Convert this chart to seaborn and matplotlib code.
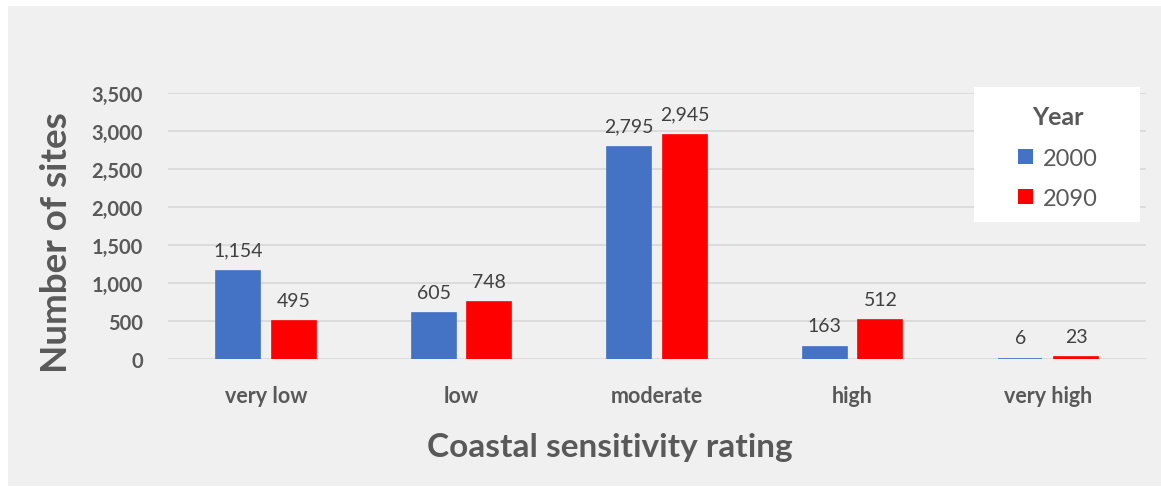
import matplotlib
matplotlib.use("Agg")
import matplotlib.pyplot as plt
from matplotlib.patches import Patch, Rectangle
import seaborn as sns
import pandas as pd

# Sites per coastal sensitivity rating, by year
ratings = ["very low", "low", "moderate", "high", "very high"]
years = ["2000", "2090"]
sites_2000 = [1154, 605, 2795, 163, 6]
sites_2090 = [495, 748, 2945, 512, 23]
y_ticks = [0, 500, 1000, 1500, 2000, 2500, 3000, 3500]

df = pd.DataFrame({
    "rating": ratings * 2,
    "year": [years[0]] * len(ratings) + [years[1]] * len(ratings),
    "sites": sites_2000 + sites_2090,
})

sns.set_theme(style="white")
plt.rcParams["font.family"] = ["Lato", "DejaVu Sans"]

W, H = 1161, 489
fig = plt.figure(figsize=(W / 100, H / 100), dpi=100)
fig.patch.set_facecolor("white")
# light grey chart area behind everything
fig.patches.append(Rectangle((8 / W, 2 / H), (W - 8) / W, (H - 9) / H,
                             transform=fig.transFigure, facecolor="#f0f0f0",
                             edgecolor="none", zorder=-10))

ax = fig.add_axes([168 / W, 1 - 360 / H, (1146 - 168) / W, (360 - 94) / H])
ax.set_facecolor("none")

colors = ["#4472C4", "#FF0000"]
sns.barplot(data=df, x="rating", y="sites", hue="year", hue_order=years,
            order=ratings, palette=colors, width=0.568, gap=0.208,
            linewidth=0, legend=False, saturation=1, ax=ax)
# thin outline in the bar colour keeps very small bars visible
for p in ax.patches:
    p.set_edgecolor(p.get_facecolor())
    p.set_linewidth(1.2)

ax.set_xlim(-0.5, 4.5)
ax.set_ylim(0, 3500)
ax.set_yticks(y_ticks)
ax.set_yticklabels([f"{t:,}" for t in y_ticks])
ax.yaxis.grid(True, color="#d9d9d9", linewidth=1.3)
ax.set_axisbelow(True)
for s in ax.spines.values():
    s.set_visible(False)
ax.tick_params(axis="both", length=0)
ax.tick_params(axis="y", pad=18)
ax.tick_params(axis="x", pad=19)

text_grey = "#595959"
for lab in ax.get_yticklabels():
    lab.set_fontsize(14.5)
    lab.set_fontweight("bold")
    lab.set_color(text_grey)
for lab in ax.get_xticklabels():
    lab.set_fontsize(15.5)
    lab.set_fontweight("bold")
    lab.set_color(text_grey)

ax.set_xlabel("Coastal sensitivity rating", fontsize=24, fontweight="bold",
              color=text_grey)
ax.xaxis.set_label_coords(0.452, -0.275)
ax.set_ylabel("Number of sites", fontsize=26.5, fontweight="bold",
              color=text_grey)
ax.yaxis.set_label_coords(-0.097, 0.44)

for cont in ax.containers:
    ax.bar_label(cont, fmt="{:,.0f}", padding=9, fontsize=14,
                 color="#404040")

# legend panel, drawn over the gridlines
fig.patches.append(Rectangle((974 / W, 1 - 223 / H), 166 / W, 135 / H,
                             transform=fig.transFigure, facecolor="white",
                             edgecolor="none", zorder=1))
handles = [Patch(facecolor=c, edgecolor="none", label=y)
           for c, y in zip(colors, years)]
leg = fig.legend(handles=handles, title="Year", loc="center",
                 bbox_to_anchor=(1058 / W, 1 - 158 / H), frameon=False,
                 fontsize=17, title_fontsize=18,
                 handlelength=0.62, handleheight=0.62, handletextpad=0.45,
                 labelspacing=0.8, borderpad=0, borderaxespad=0)
leg.set_zorder(2)
leg.get_title().set_fontweight("bold")
leg.get_title().set_color(text_grey)
leg._legend_box.sep = 14
for t in leg.get_texts():
    t.set_color(text_grey)

fig.savefig("out.png", dpi=100, facecolor=fig.get_facecolor())
